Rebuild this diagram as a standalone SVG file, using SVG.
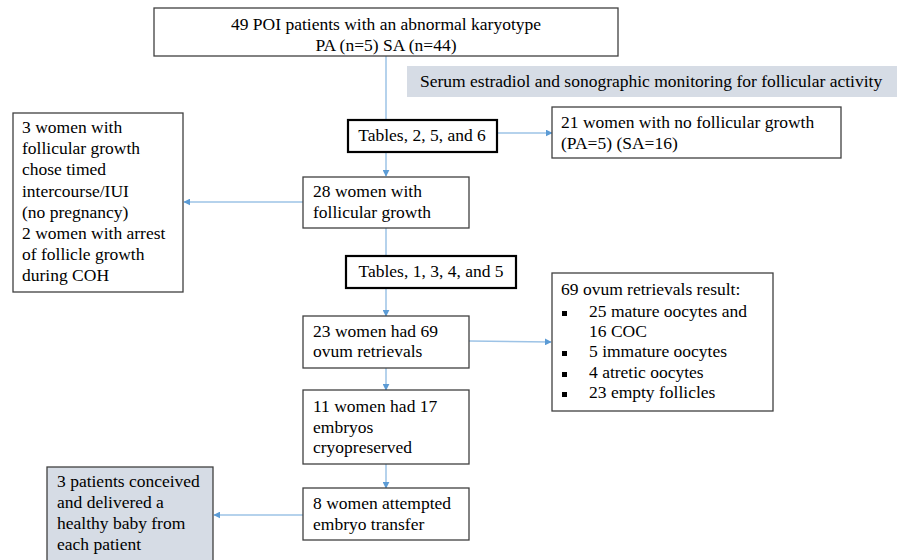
<svg xmlns="http://www.w3.org/2000/svg" width="900" height="560" viewBox="0 0 900 560">
<defs>
<style>
text{font-family:'Liberation Serif','Times New Roman',serif;font-size:17.5px;fill:#000}
.box{fill:#fff;stroke:#404040;stroke-width:1.3}
.tbl{fill:#fff;stroke:#000;stroke-width:2.2}
.gray{fill:#D6DCE5;stroke:none}
.grayb{fill:#D6DCE5;stroke:#404040;stroke-width:1.3}
.ln{stroke:#9DC3E6;stroke-width:1.5;fill:none}
.c{text-anchor:middle}
.bul{fill:#000}
</style>
<marker id="ah" viewBox="0 0 10 10" refX="9" refY="5" markerWidth="7" markerHeight="7" markerUnits="userSpaceOnUse" orient="auto">
<path d="M0,0 L10,5 L0,10 z" fill="#5B9BD5"/>
</marker>
</defs>
<rect width="900" height="560" fill="#fff"/>
<g id="connectors">
<line class="ln" x1="386" y1="56" x2="386" y2="120"/>
<line class="ln" x1="386" y1="152" x2="386" y2="176" marker-end="url(#ah)"/>
<line class="ln" x1="386" y1="228" x2="386" y2="256"/>
<line class="ln" x1="386" y1="288" x2="386" y2="316" marker-end="url(#ah)"/>
<line class="ln" x1="386" y1="368" x2="386" y2="390" marker-end="url(#ah)"/>
<line class="ln" x1="386" y1="464" x2="386" y2="488" marker-end="url(#ah)"/>
<line class="ln" x1="497" y1="133" x2="552" y2="133" marker-end="url(#ah)"/>
<line class="ln" x1="303" y1="202" x2="184" y2="202" marker-end="url(#ah)"/>
<line class="ln" x1="469" y1="341" x2="551" y2="342" marker-end="url(#ah)"/>
<line class="ln" x1="303" y1="515" x2="214" y2="515" marker-end="url(#ah)"/>
</g>
<g id="top">
<rect class="box" x="154" y="8" width="464" height="48"/>
<text class="c" x="386" y="30">49 POI patients with an abnormal karyotype</text>
<text class="c" x="386" y="51">PA (n=5) SA (n=44)</text>
</g>
<g id="monitoring">
<rect class="gray" x="407" y="66" width="490" height="31"/>
<text x="420" y="87">Serum estradiol and sonographic monitoring for follicular activity</text>
</g>
<g id="tables1">
<rect class="tbl" x="348" y="120" width="149" height="32"/>
<text class="c" x="422" y="141">Tables, 2, 5, and 6</text>
</g>
<g id="nogrowth">
<rect class="box" x="552" y="107" width="289" height="51"/>
<text x="561" y="128">21 women with no follicular growth</text>
<text x="561" y="149">(PA=5) (SA=16)</text>
</g>
<g id="excluded">
<rect class="box" x="13" y="113" width="170" height="179"/>
<text x="22" y="133">3 women with</text>
<text x="22" y="154">follicular growth</text>
<text x="22" y="175">chose timed</text>
<text x="22" y="197">intercourse/IUI</text>
<text x="22" y="218">(no pregnancy)</text>
<text x="22" y="239">2 women with arrest</text>
<text x="22" y="260">of follicle growth</text>
<text x="22" y="281">during COH</text>
</g>
<g id="growth">
<rect class="box" x="303" y="177" width="166" height="51"/>
<text x="313" y="197">28 women with</text>
<text x="313" y="218">follicular growth</text>
</g>
<g id="tables2">
<rect class="tbl" x="346" y="256" width="170" height="32"/>
<text class="c" x="431" y="277">Tables, 1, 3, 4, and 5</text>
</g>
<g id="retrievals">
<rect class="box" x="303" y="316" width="166" height="52"/>
<text x="313" y="337">23 women had 69</text>
<text x="313" y="357">ovum retrievals</text>
</g>
<g id="results">
<rect class="box" x="552" y="273" width="221" height="138"/>
<text x="561" y="295">69 ovum retrievals result:</text>
<rect class="bul" x="562" y="311" width="5" height="5"/>
<text x="589" y="317">25 mature oocytes and</text>
<text x="589" y="337">16 COC</text>
<rect class="bul" x="562" y="351" width="5" height="5"/>
<text x="589" y="357">5 immature oocytes</text>
<rect class="bul" x="562" y="372" width="5" height="5"/>
<text x="589" y="378">4 atretic oocytes</text>
<rect class="bul" x="562" y="392" width="5" height="5"/>
<text x="589" y="398">23 empty follicles</text>
</g>
<g id="cryo">
<rect class="box" x="303" y="390" width="166" height="74"/>
<text x="313" y="412">11 women had 17</text>
<text x="313" y="433">embryos</text>
<text x="313" y="453">cryopreserved</text>
</g>
<g id="transfer">
<rect class="box" x="303" y="488" width="166" height="52"/>
<text x="313" y="509">8 women attempted</text>
<text x="313" y="530">embryo transfer</text>
</g>
<g id="outcome">
<rect class="grayb" x="47" y="467" width="166" height="100"/>
<text x="57" y="487">3 patients conceived</text>
<text x="57" y="508">and delivered a</text>
<text x="57" y="529">healthy baby from</text>
<text x="57" y="550">each patient</text>
</g>
</svg>
